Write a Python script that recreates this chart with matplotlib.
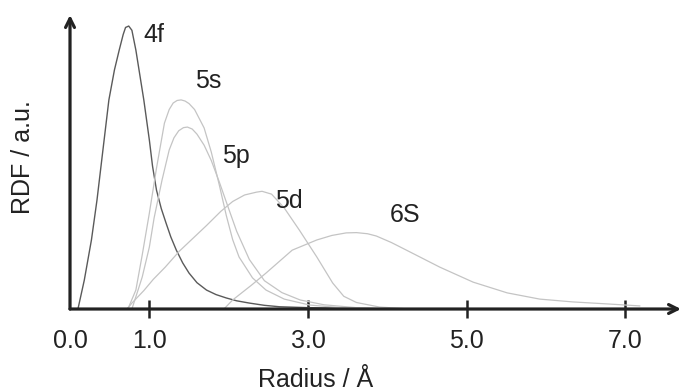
import matplotlib
matplotlib.use('Agg')
import matplotlib.pyplot as plt

plt.rcParams['font.family'] = ['Liberation Sans', 'DejaVu Sans']

# radial distribution curves (radius in Å, RDF in arbitrary units)
r_4f = [0.10, 0.18, 0.27, 0.34, 0.40, 0.49, 0.56, 0.62, 0.67, 0.70, 0.74, 0.78, 0.83, 0.88,
        0.93, 1.00, 1.04, 1.09, 1.15, 1.21, 1.27, 1.34, 1.42, 1.50, 1.60, 1.72, 1.84, 1.97,
        2.10, 2.26, 2.45, 2.64, 2.98, 3.40, 4.00, 4.41]
y_4f = [0, 10.2, 24.4, 38.5, 52.7, 73.9, 84.5, 91.5, 97.0, 99.5, 100, 98.5, 91.5, 82.7,
        73.9, 59.7, 50.5, 42.0, 35.5, 30.4, 25.5, 20.8, 16.3, 12.7, 9.3, 6.7, 5.1, 3.9,
        2.9, 2.1, 1.3, 0.8, 0.5, 0.3, 0.1, 0]

r_5s = [0.72, 0.74, 0.83, 0.91, 1.00, 1.09, 1.19, 1.25, 1.30, 1.35, 1.40, 1.45, 1.50, 1.57,
        1.69, 1.78, 1.88, 1.97, 2.05, 2.13, 2.30, 2.47, 2.70, 3.02, 3.40, 3.90]
y_5s = [0, 0.7, 6.7, 19.1, 33.9, 49.8, 65.7, 70.5, 72.8, 73.7, 73.9, 73.5, 72.6, 70.5,
        64.0, 55.5, 44.0, 33.0, 24.5, 18.4, 11.0, 6.7, 3.5, 1.4, 0.5, 0]

r_5p = [0.78, 0.87, 0.91, 1.00, 1.06, 1.16, 1.25, 1.31, 1.37, 1.43, 1.48, 1.54, 1.60, 1.69,
        1.78, 1.88, 1.98, 2.10, 2.26, 2.45, 2.67, 2.90, 3.20, 3.60, 4.00]
y_5p = [0, 7.8, 11.3, 21.9, 32.2, 45.6, 56.2, 60.5, 63.0, 64.1, 64.3, 63.6, 61.8, 57.9,
        52.5, 45.0, 37.0, 27.5, 17.5, 10.0, 5.8, 3.2, 1.5, 0.5, 0]

r_5d = [0.72, 0.78, 0.93, 1.05, 1.20, 1.38, 1.55, 1.72, 1.90, 2.05, 2.20, 2.35, 2.42, 2.54,
        2.70, 2.89, 3.11, 3.31, 3.45, 3.61, 3.90, 4.28]
y_5d = [0, 2.1, 6.5, 10.5, 14.8, 20.5, 25.0, 29.5, 34.5, 38.0, 40.3, 41.3, 41.6, 40.6,
        35.7, 27.9, 18.4, 9.2, 4.5, 2.3, 0.7, 0]

r_6s = [1.94, 2.05, 2.29, 2.47, 2.80, 3.11, 3.30, 3.48, 3.61, 3.75, 3.86, 4.05, 4.24, 4.45,
        4.66, 5.08, 5.51, 5.92, 6.34, 6.77, 7.18]
y_6s = [0, 3.2, 8.5, 12.7, 20.8, 24.4, 26.0, 26.9, 27.0, 26.6, 25.8, 23.5, 20.8, 17.8,
        14.8, 9.5, 5.7, 3.5, 2.5, 1.8, 1.1]

orbital_labels = ['4f', '5s', '5p', '5d', '6S']
label_r = [0.93, 1.57, 1.92, 2.58, 4.03]
label_y = [94.3, 78.1, 51.6, 35.7, 30.7]

x_ticks = [0, 1, 3, 5, 7]
x_tick_labels = ['0.0', '1.0', '3.0', '5.0', '7.0']

ink = '#222222'

fig = plt.figure(figsize=(6.83, 3.92), dpi=100)
ax = fig.add_axes([0.1025, 0.2117, 0.8946, 0.75])

ax.plot(r_4f, y_4f, color='#5a5a5a', lw=1.0)
for r, y in [(r_5s, y_5s), (r_5p, y_5p), (r_5d, y_5d), (r_6s, y_6s)]:
    ax.plot(r, y, color='#c4c4c4', lw=0.9)

for lab, lr, ly in zip(orbital_labels, label_r, label_y):
    ax.text(lr, ly, lab, fontsize=18, color=ink, ha='left', va='baseline')

ax.set_xlim(0, 7.70)
ax.set_ylim(0, 103.9)

for spine in ax.spines.values():
    spine.set_visible(False)

# axes drawn as arrows
arrow = dict(arrowstyle='->', lw=2.3, color=ink, mutation_scale=16, shrinkA=0, shrinkB=0)
ax.annotate('', xy=(1, 0), xytext=(0, 0), xycoords='axes fraction', arrowprops=arrow)
ax.annotate('', xy=(0, 1), xytext=(0, 0), xycoords='axes fraction', arrowprops=arrow)

ax.set_xticks(x_ticks)
ax.set_xticklabels(x_tick_labels)
ax.tick_params(axis='x', direction='inout', length=13, width=1.8, color=ink,
               labelsize=18, labelcolor=ink, pad=8)
ax.xaxis.get_major_ticks()[0].tick1line.set_visible(False)
ax.set_yticks([])

fig.text(316 / 683, 5 / 392, 'Radius / Å', fontsize=18, color=ink, ha='center', va='baseline')
fig.text(23 / 683, 1 - 157 / 392, 'RDF / a.u.', fontsize=18, color=ink,
         ha='center', va='center', rotation=90)

fig.savefig('out.png', dpi=100)
